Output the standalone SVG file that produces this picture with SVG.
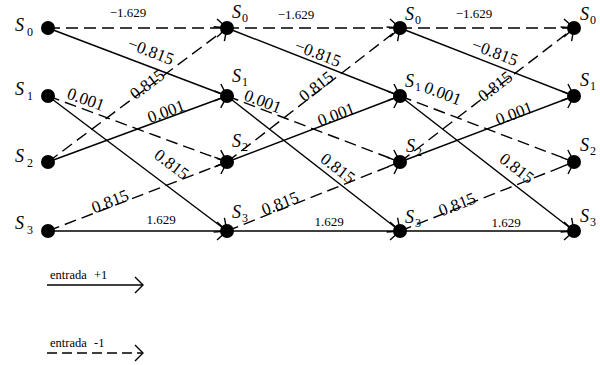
<svg xmlns="http://www.w3.org/2000/svg" width="600" height="365" viewBox="0 0 600 365">
<style>
.e{stroke:#000;stroke-width:1.4;fill:none;marker-end:url(#ah)}
.d{stroke-dasharray:12 6}
.n{fill:#000}
.s{font-family:"Liberation Serif",serif;font-style:italic;font-size:18px;fill:#000}
.sub{font-style:normal;font-size:12px}
.l{font-family:"Liberation Serif",serif;font-size:17px;fill:#000;text-anchor:middle}
.m{font-family:"Liberation Serif",serif;font-size:13px;fill:#000;text-anchor:middle}
.g{font-family:"Liberation Serif",serif;font-size:12.5px;fill:#000}
</style>
<defs>
<marker id="ah" markerUnits="userSpaceOnUse" viewBox="-12 -11 14 22" refX="0" refY="0" markerWidth="14" markerHeight="22" orient="auto" overflow="visible"><path d="M-10,-9 L0,0 L-10,9" fill="none" stroke="#000" stroke-width="1.4"/></marker>
<marker id="ahs" markerUnits="userSpaceOnUse" viewBox="-10 -9 12 18" refX="0" refY="0" markerWidth="12" markerHeight="18" orient="auto" overflow="visible"><path d="M-8,-8 L0,0 L-8,8" fill="none" stroke="#000" stroke-width="1.4"/></marker>
</defs>
<g id="connectors">
<!-- stage 1 -->
<line class="e d" x1="48" y1="28" x2="227" y2="28"/>
<line class="e" x1="48" y1="28" x2="227" y2="96"/>
<line class="e d" x1="48" y1="96" x2="227" y2="162"/>
<line class="e" x1="48" y1="96" x2="227" y2="231"/>
<line class="e d" x1="48" y1="162" x2="227" y2="28"/>
<line class="e" x1="48" y1="162" x2="227" y2="96"/>
<line class="e d" x1="48" y1="231" x2="227" y2="162"/>
<line class="e" x1="48" y1="231" x2="227" y2="231"/>
<!-- stage 2 -->
<line class="e d" x1="227" y1="28" x2="400" y2="28"/>
<line class="e" x1="227" y1="28" x2="400" y2="96"/>
<line class="e d" x1="227" y1="96" x2="400" y2="162"/>
<line class="e" x1="227" y1="96" x2="400" y2="231"/>
<line class="e d" x1="227" y1="162" x2="400" y2="28"/>
<line class="e" x1="227" y1="162" x2="400" y2="96"/>
<line class="e d" x1="227" y1="231" x2="400" y2="162"/>
<line class="e" x1="227" y1="231" x2="400" y2="231"/>
<!-- stage 3 -->
<line class="e d" x1="400" y1="28" x2="574" y2="28"/>
<line class="e" x1="400" y1="28" x2="574" y2="96"/>
<line class="e d" x1="400" y1="96" x2="574" y2="162"/>
<line class="e" x1="400" y1="96" x2="574" y2="231"/>
<line class="e d" x1="400" y1="162" x2="574" y2="28"/>
<line class="e" x1="400" y1="162" x2="574" y2="96"/>
<line class="e d" x1="400" y1="231" x2="574" y2="162"/>
<line class="e" x1="400" y1="231" x2="574" y2="231"/>
</g>
<g id="labels">
<text class="m" x="128" y="17">−1.629</text>
<text class="l" x="151" y="57" transform="rotate(21 151 51)">−0.815</text>
<text class="l" x="86" y="105" transform="rotate(20 86 99)">0.001</text>
<text class="l" x="147" y="90" transform="rotate(-37 147 84)">0.815</text>
<text class="l" x="166" y="117" transform="rotate(-20 166 111)">0.001</text>
<text class="l" x="172" y="170" transform="rotate(37 172 164)">0.815</text>
<text class="l" x="110" y="207" transform="rotate(-21 110 201)">0.815</text>
<text class="m" x="161" y="224">1.629</text>

<text class="m" x="296" y="19">−1.629</text>
<text class="l" x="318" y="59" transform="rotate(21 318 53)">−0.815</text>
<text class="l" x="263" y="107" transform="rotate(21 263 101)">0.001</text>
<text class="l" x="316" y="92" transform="rotate(-38 316 86)">0.815</text>
<text class="l" x="336" y="120" transform="rotate(-21 336 114)">0.001</text>
<text class="l" x="338" y="174" transform="rotate(38 338 168)">0.815</text>
<text class="l" x="280" y="209" transform="rotate(-21 280 203)">0.815</text>
<text class="m" x="329" y="226">1.629</text>

<text class="m" x="474" y="18">−1.629</text>
<text class="l" x="495" y="58" transform="rotate(21 495 52)">−0.815</text>
<text class="l" x="443" y="99" transform="rotate(21 443 93)">0.001</text>
<text class="l" x="495" y="92" transform="rotate(-38 495 86)">0.815</text>
<text class="l" x="514" y="119" transform="rotate(-21 514 113)">0.001</text>
<text class="l" x="517" y="174" transform="rotate(38 517 168)">0.815</text>
<text class="l" x="457" y="210" transform="rotate(-21 457 204)">0.815</text>
<text class="m" x="506" y="227">1.629</text>
</g>
<g id="n-c1-s0"><circle class="n" cx="48" cy="28" r="7"/><text class="s" x="15" y="31">S<tspan class="sub" x="27" y="36">0</tspan></text></g>
<g id="n-c1-s1"><circle class="n" cx="48" cy="96" r="7"/><text class="s" x="15" y="95">S<tspan class="sub" x="27" y="100">1</tspan></text></g>
<g id="n-c1-s2"><circle class="n" cx="48" cy="162" r="7"/><text class="s" x="15" y="162">S<tspan class="sub" x="27" y="167">2</tspan></text></g>
<g id="n-c1-s3"><circle class="n" cx="48" cy="231" r="7"/><text class="s" x="15" y="229">S<tspan class="sub" x="27" y="234">3</tspan></text></g>

<g id="n-c2-s0"><circle class="n" cx="227" cy="28" r="7"/><text class="s" x="232" y="18">S<tspan class="sub" x="242" y="22">0</tspan></text></g>
<g id="n-c2-s1"><circle class="n" cx="227" cy="96" r="7"/><text class="s" x="232" y="82">S<tspan class="sub" x="242" y="86">1</tspan></text></g>
<g id="n-c2-s2"><circle class="n" cx="227" cy="162" r="7"/><text class="s" x="232" y="147">S<tspan class="sub" x="242" y="151">2</tspan></text></g>
<g id="n-c2-s3"><circle class="n" cx="227" cy="231" r="7"/><text class="s" x="232" y="218">S<tspan class="sub" x="242" y="222">3</tspan></text></g>

<g id="n-c3-s0"><circle class="n" cx="400" cy="28" r="7"/><text class="s" x="405" y="20">S<tspan class="sub" x="415" y="24">0</tspan></text></g>
<g id="n-c3-s1"><circle class="n" cx="400" cy="96" r="7"/><text class="s" x="405" y="87">S<tspan class="sub" x="415" y="91">1</tspan></text></g>
<g id="n-c3-s2"><circle class="n" cx="400" cy="162" r="7"/><text class="s" x="406" y="152">S<tspan class="sub" x="416" y="156">2</tspan></text></g>
<g id="n-c3-s3"><circle class="n" cx="400" cy="231" r="7"/><text class="s" x="405" y="223">S<tspan class="sub" x="415" y="227">3</tspan></text></g>

<g id="n-c4-s0"><circle class="n" cx="574" cy="28" r="7"/><text class="s" x="580" y="20">S<tspan class="sub" x="590" y="24">0</tspan></text></g>
<g id="n-c4-s1"><circle class="n" cx="574" cy="96" r="7"/><text class="s" x="580" y="86">S<tspan class="sub" x="590" y="90">1</tspan></text></g>
<g id="n-c4-s2"><circle class="n" cx="574" cy="162" r="7"/><text class="s" x="580" y="151">S<tspan class="sub" x="590" y="155">2</tspan></text></g>
<g id="n-c4-s3"><circle class="n" cx="574" cy="231" r="7"/><text class="s" x="580" y="222">S<tspan class="sub" x="590" y="226">3</tspan></text></g>

<g id="legend">
<line x1="47" y1="285" x2="143" y2="285" stroke="#000" stroke-width="1.4" marker-end="url(#ahs)"/>
<text class="g" x="50" y="279">entrada<tspan x="94">+1</tspan></text>
<line x1="47" y1="353" x2="143" y2="353" stroke="#000" stroke-width="1.4" stroke-dasharray="10 5" marker-end="url(#ahs)"/>
<text class="g" x="50" y="347">entrada<tspan x="94">-1</tspan></text>
</g>
</svg>
